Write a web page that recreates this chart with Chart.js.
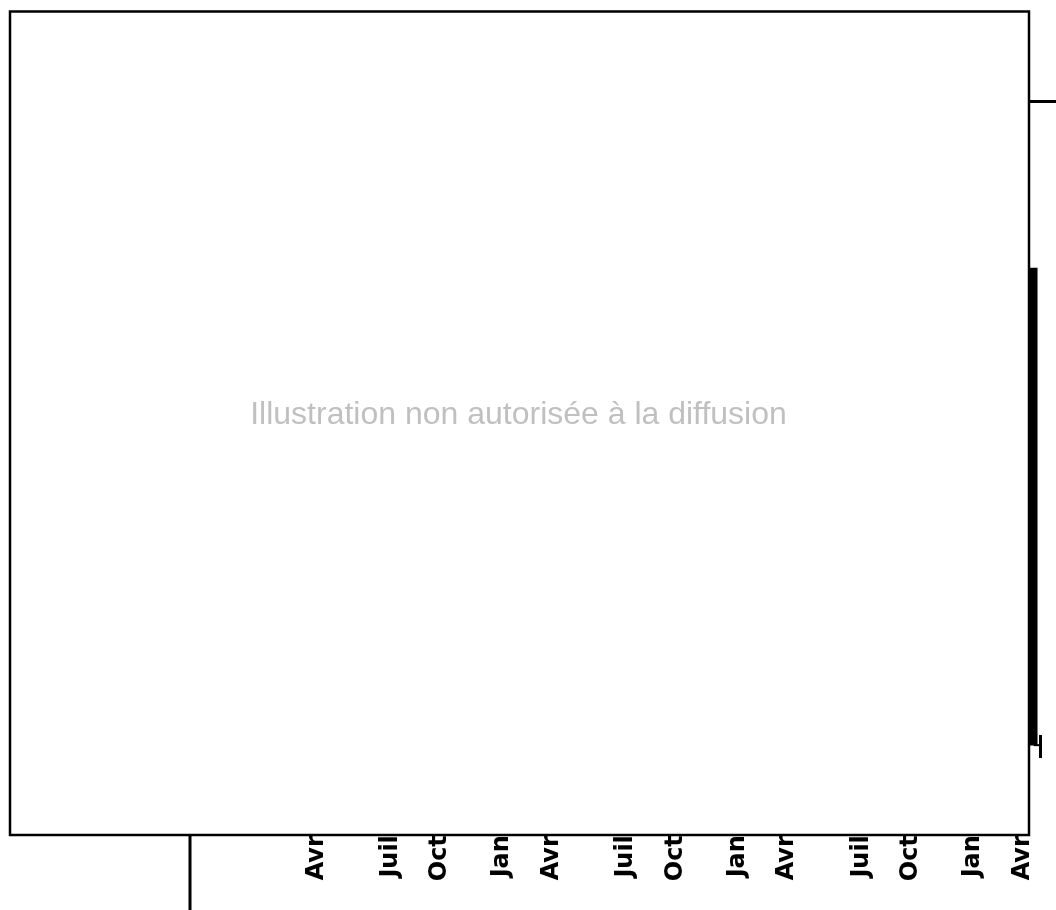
<!DOCTYPE html>
<html lang="fr">
<head>
<meta charset="utf-8">
<title>Illustration</title>
<script src="https://cdn.jsdelivr.net/npm/chart.js@4.4.1/dist/chart.umd.min.js"></script>
<style>
  html, body { margin: 0; padding: 0; background: #fff; overflow: hidden; }
  #graphique { display: block; }
</style>
</head>
<body>
<canvas id="graphique" width="1056" height="910"></canvas>
<script>
// Axe des x : rang de l'observation dans la série
const xMin = -0.2;
const xMax = 69.7;
const tickIndex = [10, 16, 20, 25, 29, 35, 39, 44, 48, 54, 58, 63, 67];
const tickLabels = ["Avr 2010", "Juil 2010", "Oct 2010", "Jan 2011",
                    "Avr 2011", "Juil 2011", "Oct 2011", "Jan 2012",
                    "Avr 2012", "Juil 2012", "Oct 2012", "Jan 2013", "Avr 2013"];

// Axe des y
const yMin = 0;
const yMax = 100;

// Seule partie visible de la série (bord droit)
const serieIndex = [67.9];
const serieLow = [4.0];
const serieHigh = [75.1];

// Petit repère au pied de la série
const repereIndex = [67.9, 68.45];
const repereY = [4.0, 4.0];
const repereTrait = [5.5, 2.1];

const texteMasque = "Illustration non autorisée à la diffusion";

// Plugin : trait vertical gauche + cadre blanc qui masque le graphique
const masquePlugin = {
  id: 'masque',
  afterDraw(chart) {
    const ctx = chart.ctx;
    const area = chart.chartArea;
    ctx.save();

    // trait de l'axe gauche prolongé jusqu'en bas
    ctx.strokeStyle = '#000';
    ctx.lineWidth = 3;
    ctx.beginPath();
    ctx.moveTo(area.left, area.top);
    ctx.lineTo(area.left, chart.height);
    ctx.stroke();

    // cadre
    ctx.fillStyle = '#fff';
    ctx.fillRect(10, 11.5, 1019, 823.5);
    ctx.lineWidth = 2.5;
    ctx.strokeStyle = '#000';
    ctx.strokeRect(10, 11.5, 1019, 823.5);

    // texte
    ctx.fillStyle = '#c0c0c0';
    ctx.font = '32px "Liberation Sans", Arial, sans-serif';
    ctx.textAlign = 'center';
    ctx.textBaseline = 'alphabetic';
    ctx.fillText(texteMasque, 518.5, 424);
    ctx.restore();
  }
};

const ctx = document.getElementById('graphique').getContext('2d');
const monGraphique = new Chart(ctx, {
  data: {
    datasets: [
      {
        type: 'bar',
        label: 'Série',
        data: serieIndex.map((m, i) => ({ x: m, y: [serieLow[i], serieHigh[i]] })),
        backgroundColor: '#000',
        borderWidth: 0,
        barThickness: 7
      },
      {
        type: 'line',
        label: 'Repère',
        data: repereIndex.map((m, i) => ({ x: m, y: repereY[i] })),
        borderColor: '#000',
        borderWidth: 2,
        pointRadius: 0
      },
      {
        type: 'line',
        label: 'Repère trait',
        data: repereTrait.map(v => ({ x: repereIndex[1], y: v })),
        borderColor: '#000',
        borderWidth: 3,
        pointRadius: 0
      }
    ]
  },
  options: {
    responsive: false,
    animation: false,
    devicePixelRatio: 1,
    layout: { padding: { top: 101, right: 0, bottom: 0, left: 0 } },
    plugins: {
      legend: { display: false },
      tooltip: { enabled: false },
      title: { display: false }
    },
    scales: {
      x: {
        type: 'linear',
        min: xMin,
        max: xMax,
        offset: false,
        afterBuildTicks: scale => {
          scale.ticks = tickIndex.map(v => ({ value: v }));
        },
        afterFit: scale => { scale.height = 138; },
        ticks: {
          autoSkip: false,
          minRotation: 90,
          maxRotation: 90,
          padding: -20,
          color: '#000',
          font: { family: '"DejaVu Sans"', size: 24, weight: 'bold' },
          callback: (value, index) => tickLabels[index]
        },
        grid: { display: false },
        border: { display: false }
      },
      y: {
        type: 'linear',
        min: yMin,
        max: yMax,
        afterFit: scale => { scale.width = 190; },
        ticks: { display: false },
        border: { display: false },
        grid: {
          drawTicks: false,
          lineWidth: 3,
          color: c => (c.tick && c.tick.value === yMax) ? '#000' : 'rgba(0,0,0,0)'
        }
      }
    }
  },
  plugins: [masquePlugin]
});
</script>
</body>
</html>
